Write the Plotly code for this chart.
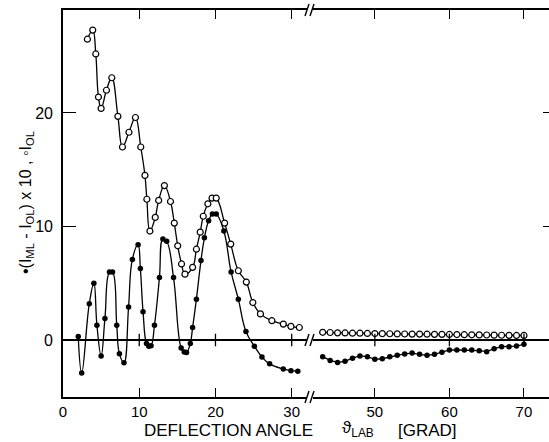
import plotly.graph_objects as go

# ---------------- data ----------------
# open circles: I_OL, small-angle part
ol_x_left = [3.2, 3.9, 4.3, 4.65, 5.0, 5.7, 6.4, 7.2, 7.8, 8.65, 9.5, 10.2, 10.75, 11.0,
             11.4, 12.1, 12.55, 13.3, 14.1, 14.6, 15.05, 15.55, 16.0, 17.0, 17.5, 18.0,
             18.4, 19.0, 19.55, 20.1, 21.2, 22.0, 23.0, 24.05, 24.9, 25.9, 27.4, 28.9,
             29.9, 31.0]
ol_y_left = [26.5, 27.3, 25.2, 21.4, 20.4, 22.0, 23.1, 19.7, 17.0, 18.3, 19.6, 17.0, 14.5,
             12.4, 9.6, 10.8, 12.3, 13.6, 12.2, 10.3, 8.3, 6.7, 5.8, 6.4, 8.0, 9.5, 10.9,
             12.0, 12.5, 12.5, 10.3, 8.45, 6.1, 5.1, 3.3, 2.3, 1.7, 1.4, 1.2, 1.1]

# filled circles: (I_ML - I_OL) x 10, small-angle part
ml_x_left = [2.0, 2.45, 3.45, 4.05, 4.45, 5.0, 5.5, 6.1, 6.5, 7.05, 7.4, 8.0, 8.6, 9.1,
             9.85, 10.15, 10.5, 10.95, 11.25, 11.55, 12.0, 12.65, 13.1, 13.6, 14.5, 15.5,
             15.9, 16.2, 16.7, 17.0, 17.5, 18.1, 18.55, 19.1, 19.6, 20.1, 21.1, 22.05,
             23.0, 24.0, 25.1, 26.1, 27.1, 28.9, 29.9, 30.8]
ml_y_left = [0.3, -2.9, 3.2, 5.0, 1.3, -1.4, 1.9, 6.0, 6.0, 1.3, -1.2, -2.0, 2.9, 7.1,
             8.4, 6.3, 2.5, -0.3, -0.55, -0.5, 1.3, 5.5, 8.9, 8.7, 5.5, -0.7,
             -1.05, -1.1, -0.3, 1.1, 3.6, 7.0, 9.0, 10.5, 11.1, 11.1, 9.6, 6.0,
             3.6, 0.75, -0.55, -1.5, -2.1, -2.55, -2.7, -2.75]

# large-angle part (after the axis break)
ang_right = list(range(43, 71))
ol_y_right = [0.68, 0.66, 0.63, 0.62, 0.6, 0.6, 0.58, 0.57, 0.56, 0.55, 0.54, 0.53, 0.52,
              0.52, 0.51, 0.5, 0.5, 0.49, 0.48, 0.47, 0.46, 0.45, 0.44, 0.43, 0.42, 0.41,
              0.4, 0.4]
ml_x_right = ang_right + [70]
ml_y_right = [-1.47, -1.8, -1.97, -1.88, -1.6, -1.4, -1.47, -1.7, -1.65, -1.47, -1.35,
              -1.23, -1.15, -1.26, -1.35, -1.26, -1.08, -0.88, -0.88, -0.88, -0.88, -0.94,
              -1.03, -0.76, -0.59, -0.59, -0.53, -0.38, 0.35]

x_ticks_left = [0, 10, 20, 30]
x_ticks_right = [50, 60, 70]
y_ticks = [0, 10, 20]
y_tick_text = ["0", "10", "20"]

# ---------------- geometry ----------------
W, H = 549, 442
ML, MR, MT, MB = 63, 0, 10, 45
PW, PH = W - ML - MR, H - MT - MB
BREAK_PX = 310
d = (BREAK_PX - ML) / PW


def px(xp):
    return (xp - ML) / PW


def py(yp):
    return (H - MB - yp) / PH


FONT = "Liberation Sans, Arial, sans-serif"

fig = go.Figure()

line_kw = dict(color="black", width=1.3, shape="spline", smoothing=1.2)

fig.add_trace(go.Scatter(x=ml_x_left, y=ml_y_left, mode="lines+markers",
                         line=line_kw,
                         marker=dict(symbol="circle", size=5.5, color="black"),
                         xaxis="x", yaxis="y", showlegend=False))
fig.add_trace(go.Scatter(x=ol_x_left, y=ol_y_left, mode="lines+markers",
                         line=line_kw,
                         marker=dict(symbol="circle", size=6, color="white",
                                     line=dict(color="black", width=1.2)),
                         xaxis="x", yaxis="y", showlegend=False))
fig.add_trace(go.Scatter(x=ml_x_right, y=ml_y_right, mode="lines+markers",
                         line=dict(color="black", width=1.3),
                         marker=dict(symbol="circle", size=5.5, color="black"),
                         xaxis="x2", yaxis="y2", showlegend=False))
fig.add_trace(go.Scatter(x=ang_right, y=ol_y_right, mode="lines+markers",
                         line=dict(color="black", width=1.3),
                         marker=dict(symbol="circle", size=6, color="white",
                                     line=dict(color="black", width=1.2)),
                         xaxis="x2", yaxis="y2", showlegend=False))

# small tick crosses on the zero line
fig.add_trace(go.Scatter(x=x_ticks_left[1:], y=[0] * 3, mode="markers",
                         marker=dict(symbol="line-ns", size=9,
                                     line=dict(color="black", width=1.3)),
                         xaxis="x", yaxis="y", showlegend=False, hoverinfo="skip"))
fig.add_trace(go.Scatter(x=x_ticks_right, y=[0] * 3, mode="markers",
                         marker=dict(symbol="line-ns", size=9,
                                     line=dict(color="black", width=1.3)),
                         xaxis="x2", yaxis="y2", showlegend=False, hoverinfo="skip"))

yr = [-5.02, 29.07]
axis_common = dict(showgrid=False, showline=True, linecolor="black", linewidth=1.6,
                   ticks="inside", tickcolor="black", tickwidth=1.3, automargin=False)

fig.update_layout(
    width=W, height=H,
    margin=dict(l=ML, r=MR, t=MT, b=MB, pad=0),
    paper_bgcolor="white", plot_bgcolor="white",
    xaxis=dict(domain=[0, d], range=[0, 32.4], tickvals=x_ticks_left, ticklen=9,
               mirror="ticks", zeroline=False, anchor="y", ticklabelstandoff=0,
               tickfont=dict(family=FONT, size=15, color="black"), **axis_common),
    xaxis2=dict(domain=[d, 1], range=[41.3, 73.36], tickvals=x_ticks_right, ticklen=9,
                mirror="ticks", zeroline=False, anchor="y2", ticklabelstandoff=0,
                tickfont=dict(family=FONT, size=15, color="black"), **axis_common),
    yaxis=dict(domain=[0, 1], range=yr, tickvals=y_ticks, ticktext=y_tick_text,
               ticklen=13, zeroline=True, zerolinecolor="black", zerolinewidth=1.5,
               anchor="x", ticklabelstandoff=5,
               tickfont=dict(family=FONT, size=16, color="black"), **axis_common),
    yaxis2=dict(domain=[0, 1], range=yr, tickvals=y_ticks, ticklen=6, side="right",
                showticklabels=False, zeroline=True, zerolinecolor="black",
                zerolinewidth=1.5, anchor="x2", **axis_common),
)

# axis-break marks "//"
shapes = []
for yb in [10, 397, 340]:
    shapes.append(dict(type="rect", xref="paper", yref="paper",
                       x0=px(BREAK_PX - 3), x1=px(BREAK_PX + 3),
                       y0=py(yb + 2), y1=py(yb - 2),
                       fillcolor="white", line=dict(width=0), layer="above"))
    for off in (-3, 2):
        shapes.append(dict(type="line", xref="paper", yref="paper",
                           x0=px(BREAK_PX + off - 2), y0=py(yb + 6),
                           x1=px(BREAK_PX + off + 2), y1=py(yb - 6),
                           line=dict(color="black", width=1.4), layer="above"))
fig.update_layout(shapes=shapes)

annotations = [
    dict(text="DEFLECTION ANGLE", xref="paper", yref="paper",
         x=px(228), y=py(430), xanchor="center", yanchor="middle", showarrow=False,
         font=dict(family=FONT, size=17, color="black")),
    dict(text="ϑ<sub>LAB</sub>", xref="paper", yref="paper",
         x=px(340), y=py(429), xanchor="left", yanchor="middle", showarrow=False,
         font=dict(family=FONT, size=17, color="black")),
    dict(text="[GRAD]", xref="paper", yref="paper",
         x=px(396), y=py(430), xanchor="left", yanchor="middle", showarrow=False,
         font=dict(family=FONT, size=17, color="black")),
    dict(text="•(I<sub>ML</sub> - I<sub>OL</sub>) x 10 , ◦I<sub>OL</sub>",
         xref="paper", yref="paper", x=px(27), y=py(203), xanchor="center",
         yanchor="middle", textangle=-90, showarrow=False,
         font=dict(family=FONT, size=16, color="black")),
]
fig.update_layout(annotations=annotations)

fig.write_html("out.html", config={"displayModeBar": False},
               post_script="document.body.style.margin='0';document.body.style.overflow='hidden';")
